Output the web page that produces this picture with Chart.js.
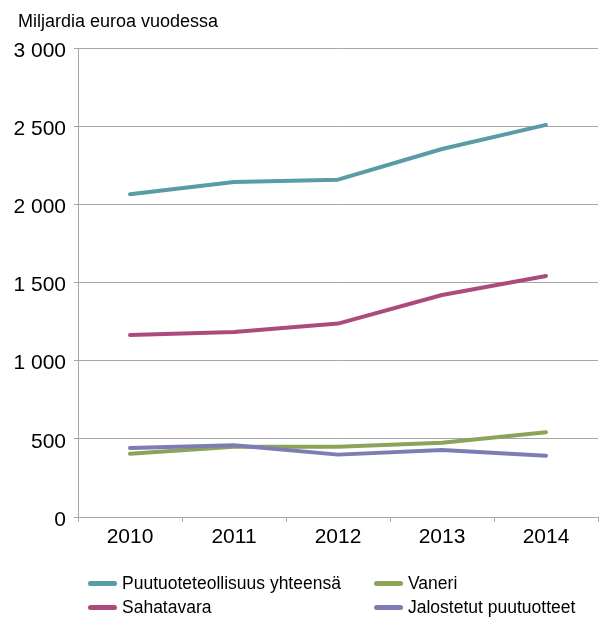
<!DOCTYPE html>
<html>
<head>
<meta charset="utf-8">
<script src="https://cdn.jsdelivr.net/npm/chart.js@4/dist/chart.umd.min.js"></script>
<style>
  body { margin: 0; background: #fff; font-family: "Liberation Sans", Arial, sans-serif; }
  #wrap { position: relative; width: 611px; height: 622px; }
  #yTitle { position: absolute; left: 18px; top: 11px; font-size: 18px; line-height: 20px; color: #000; white-space: nowrap; }
  .item { position: absolute; font-size: 17.5px; line-height: 20px; color: #000; white-space: nowrap; }
  .sw { position: absolute; left: -34px; top: 8px; width: 29px; height: 5px; border-radius: 3px; }
</style>
</head>
<body>
<div id="wrap">
  <canvas id="chart" width="611" height="622"></canvas>
  <div id="yTitle">Miljardia euroa vuodessa</div>
  <div id="legend"></div>
</div>
<script>
const years = ["2010", "2011", "2012", "2013", "2014"];
const yhteensa = [2065, 2143, 2158, 2354, 2508];
const sahatavara = [1164, 1184, 1237, 1420, 1542];
const vaneri = [405, 450, 450, 475, 542];
const jalostetut = [441, 459, 399, 429, 392];
const seriesNames = ["Puutuoteteollisuus yhteensä", "Sahatavara", "Vaneri", "Jalostetut puutuotteet"];
const seriesColors = ["#599ba6", "#ad4a7d", "#8ca35a", "#7d7db3"];

const gridColor = "#a6a6a6";
const font = { family: "'Liberation Sans', Arial, sans-serif", size: 21 };

const values = [yhteensa, sahatavara, vaneri, jalostetut];
const datasets = values.map((v, i) => ({
  label: seriesNames[i],
  data: v,
  borderColor: seriesColors[i],
  backgroundColor: seriesColors[i],
  borderWidth: 4,
  borderCapStyle: "round",
  borderJoinStyle: "round",
  pointRadius: 0,
  tension: 0,
  order: 3 - i
}));

new Chart(document.getElementById("chart"), {
  type: "line",
  data: { labels: years, datasets: datasets },
  options: {
    responsive: false,
    animation: false,
    layout: { padding: { left: 5, right: 13, top: 48, bottom: 72 } },
    plugins: { legend: { display: false }, tooltip: { enabled: false } },
    scales: {
      x: {
        offset: true,
        grid: { display: true, drawOnChartArea: false, drawTicks: true, tickLength: 5, color: gridColor, offset: true },
        border: { color: gridColor, width: 1 },
        ticks: { color: "#000", font: font, padding: 3 },
        afterFit: axis => { axis.height = 33; }
      },
      y: {
        min: 0,
        max: 3000,
        grid: { color: gridColor, tickLength: 4, drawTicks: true },
        border: { color: gridColor, width: 1 },
        ticks: {
          stepSize: 500,
          color: "#000",
          font: font,
          padding: 8,
          labelOffset: 3,
          callback: v => String(v).replace(/\B(?=(\d{3})+(?!\d))/g, " ")
        },
        afterFit: axis => { axis.width = 73; }
      }
    }
  }
});

// legend in Excel column order
const legendPos = [[122, 573], [122, 597], [408, 573], [408, 597]];
const legend = document.getElementById("legend");
seriesNames.forEach((name, i) => {
  const item = document.createElement("div");
  item.className = "item";
  item.style.left = legendPos[i][0] + "px";
  item.style.top = legendPos[i][1] + "px";
  const sw = document.createElement("span");
  sw.className = "sw";
  sw.style.background = seriesColors[i];
  item.appendChild(sw);
  item.appendChild(document.createTextNode(name));
  legend.appendChild(item);
});
</script>
</body>
</html>
